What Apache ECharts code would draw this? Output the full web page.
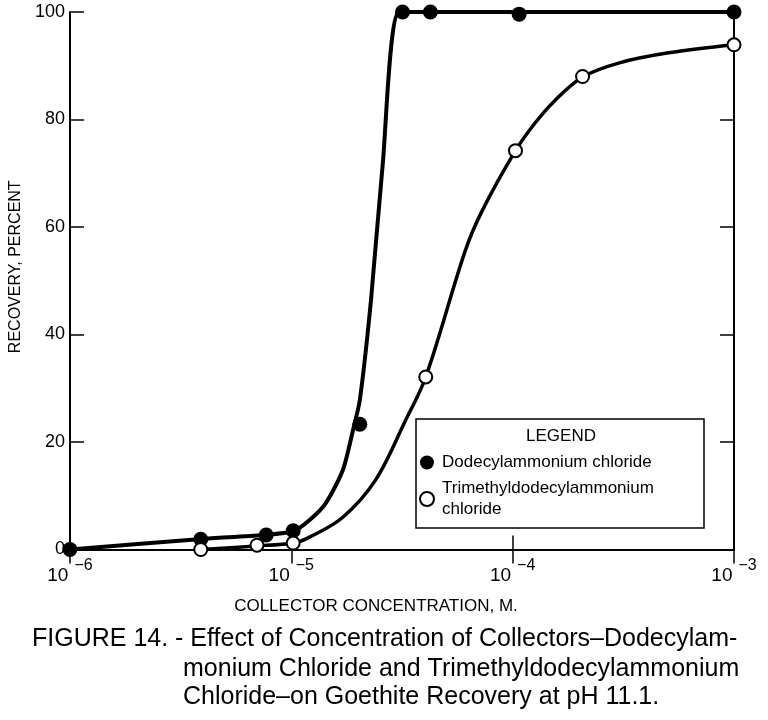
<!DOCTYPE html>
<html><head><meta charset="utf-8">
<script src="https://cdn.jsdelivr.net/npm/echarts@6/dist/echarts.min.js"></script>
<style>html,body{margin:0;padding:0;background:#fff}#c{width:768px;height:720px}</style>
</head><body><div id="c"></div>
<script>
// ---- Data ----
const xTickExponents = [-6, -5, -4, -3];
const yTicks = [0, 20, 40, 60, 80, 100];

// Measured points: [concentration (M), recovery (%)]
const dodecylX = [1e-6, 3.9e-6, 7.7e-6, 1.02e-5, 2.04e-5, 3.18e-5, 4.25e-5, 1.07e-4, 1e-3];
const dodecylY = [0, 1.9, 2.7, 3.5, 23.3, 100, 100, 99.6, 100];

const trimethylX = [3.9e-6, 7.0e-6, 1.02e-5, 4.05e-5, 1.03e-4, 2.07e-4, 1e-3];
const trimethylY = [0, 0.8, 1.2, 32.1, 74.2, 88.0, 93.9];

// Hand-drawn fitted curves
const dodecylCurveX = [1e-6, 3.93e-6, 7.46e-6, 1.02e-5, 1.21e-5, 1.43e-5, 1.71e-5, 1.90e-5, 2.04e-5, 2.29e-5, 2.58e-5, 3.08e-5, 4.25e-5, 1.07e-4, 1e-3];
const dodecylCurveY = [0, 1.95, 2.7, 3.4, 5.5, 8.6, 14.8, 22.2, 27.8, 46.3, 71.0, 100, 100, 100, 100];

const trimethylCurveX = [3.93e-6, 6.93e-6, 1.02e-5, 1.21e-5, 1.71e-5, 2.40e-5, 3.28e-5, 4.05e-5, 6.11e-5, 7.28e-5, 1.03e-4, 1.26e-4, 1.55e-4, 2.07e-4, 3.01e-4, 5.06e-4, 1e-3];
const trimethylCurveY = [0, 0.65, 1.2, 2.3, 6.0, 12.9, 24.0, 32.1, 55.6, 63.0, 74.2, 79.3, 83.5, 87.9, 90.5, 92.4, 93.9];

const nameDodecyl = 'Dodecylammonium chloride';
const nameTrimethyl = 'Trimethyldodecylammonium chloride';

const xAxisTitle = 'COLLECTOR CONCENTRATION, M.';
const yAxisTitle = 'RECOVERY, PERCENT';
const captionLines = [
  'FIGURE 14. - Effect of Concentration of Collectors\u2013Dodecylam-',
  'monium Chloride and Trimethyldodecylammonium',
  'Chloride\u2013on Goethite Recovery at pH 11.1.'
];
const legendTitle = 'LEGEND';

// ---- Build chart ----
const zip = (xs, ys) => xs.map((x, i) => [x, ys[i]]);
const xMin = Math.pow(10, xTickExponents[0]);
const xMax = Math.pow(10, xTickExponents[xTickExponents.length - 1]);
const sans = '"Liberation Sans", Arial, sans-serif';

const axisLineStyle = { color: '#000', width: 2 };
const tickStyle = { show: true, inside: true, length: 14, lineStyle: { color: '#000', width: 1.5 } };

const chart = echarts.init(document.getElementById('c'), null, { renderer: 'canvas' });
chart.setOption({
  backgroundColor: '#fff',
  animation: false,
  grid: { left: 66, top: 12, width: 668, height: 537.5, containLabel: false },
  xAxis: [
    {
      type: 'log', logBase: 10, min: xMin, max: xMax, position: 'bottom',
      axisLine: { lineStyle: axisLineStyle }, axisTick: tickStyle, minorTick: { show: false },
      splitLine: { show: false },
      axisLabel: {
        margin: 8, color: '#000',
        formatter: v => '{b|10}{s|\u2212' + Math.abs(Math.round(Math.log10(v))) + '}',
        rich: {
          b: { fontFamily: sans, fontSize: 19, color: '#000', verticalAlign: 'bottom', lineHeight: 28 },
          s: { fontFamily: sans, fontSize: 16, color: '#000', verticalAlign: 'top', padding: [0, 0, 0, 6] }
        }
      },
      name: xAxisTitle, nameLocation: 'middle', nameGap: 48,
      nameTextStyle: { fontFamily: sans, fontSize: 17, color: '#000', padding: [0, 52, 0, 0] }
    },
    {
      type: 'log', logBase: 10, min: xMin, max: xMax, position: 'top',
      axisLine: { lineStyle: axisLineStyle }, axisTick: tickStyle,
      axisLabel: { show: false }, splitLine: { show: false }
    }
  ],
  yAxis: [
    {
      type: 'value', min: yTicks[0], max: yTicks[yTicks.length - 1], interval: yTicks[1] - yTicks[0], position: 'left',
      axisLine: { show: true, lineStyle: axisLineStyle }, axisTick: tickStyle, splitLine: { show: false },
      axisLabel: { margin: 5, color: '#000', fontFamily: sans, fontSize: 18 },
      name: yAxisTitle, nameLocation: 'middle', nameGap: 42, nameRotate: 90,
      nameTextStyle: { fontFamily: sans, fontSize: 16, color: '#000', padding: [0, 0, 0, 28] }
    },
    {
      type: 'value', min: yTicks[0], max: yTicks[yTicks.length - 1], interval: yTicks[1] - yTicks[0], position: 'right',
      axisLine: { show: true, lineStyle: axisLineStyle }, axisTick: tickStyle, splitLine: { show: false },
      axisLabel: { show: false }
    }
  ],
  legend: {
    left: 416, top: 419, orient: 'vertical',
    padding: [33, 4, 8, 3], itemGap: 5, itemWidth: 20, itemHeight: 14,
    borderColor: '#000', borderWidth: 1.5, backgroundColor: '#fff',
    textStyle: { fontFamily: sans, fontSize: 17, color: '#000', lineHeight: 21, width: 258 },
    formatter: name => name === nameTrimethyl ? 'Trimethyldodecylammonium\nchloride' : name,
    data: [ { name: nameDodecyl }, { name: nameTrimethyl } ],
    selectedMode: false
  },
  graphic: [
    { type: 'text', z: 100, x: 561, y: 436,
      style: { text: legendTitle, font: '17px ' + sans, fill: '#000', textAlign: 'center', textVerticalAlign: 'middle' } },
    { type: 'text', z: 100, x: 32, y: 639, style: { text: captionLines[0], font: '25px ' + sans, fill: '#000', textVerticalAlign: 'middle' } },
    { type: 'text', z: 100, x: 183, y: 669, style: { text: captionLines[1], font: '25px ' + sans, fill: '#000', textVerticalAlign: 'middle' } },
    { type: 'text', z: 100, x: 183, y: 697, style: { text: captionLines[2], font: '25px ' + sans, fill: '#000', textVerticalAlign: 'middle' } }
  ],
  series: [
    { name: 'curve-dodecyl', type: 'line', data: zip(dodecylCurveX, dodecylCurveY), smooth: 0.25,
      symbol: 'none', lineStyle: { color: '#000', width: 4 }, z: 2, silent: true },
    { name: 'curve-trimethyl', type: 'line', data: zip(trimethylCurveX, trimethylCurveY), smooth: 0.35,
      symbol: 'none', lineStyle: { color: '#000', width: 3.5 }, z: 2, silent: true },
    { name: nameDodecyl, type: 'scatter', data: zip(dodecylX, dodecylY), symbol: 'circle', symbolSize: 15,
      itemStyle: { color: '#000', opacity: 1 }, z: 5 },
    { name: nameTrimethyl, type: 'scatter', data: zip(trimethylX, trimethylY), symbol: 'circle', symbolSize: 13,
      itemStyle: { color: '#fff', borderColor: '#000', borderWidth: 2, opacity: 1 }, z: 5 }
  ]
});
</script></body></html>
